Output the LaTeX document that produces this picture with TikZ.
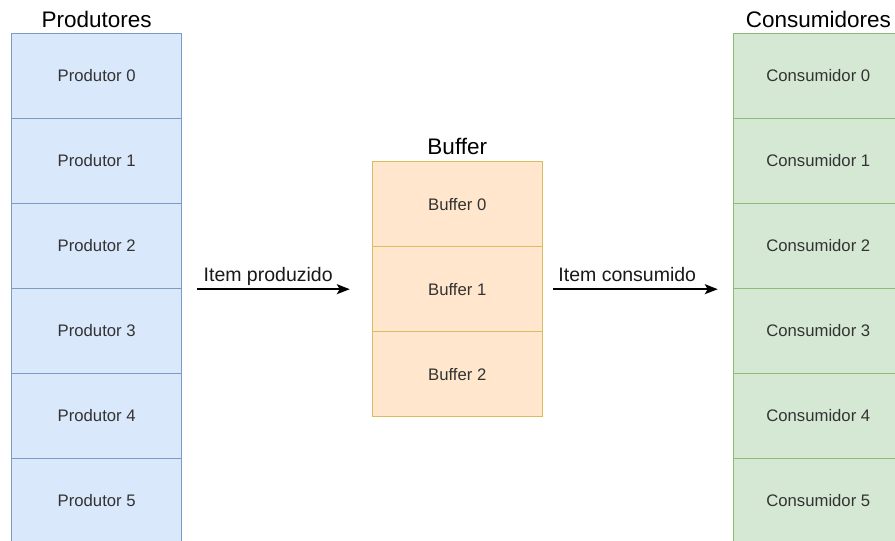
\documentclass[tikz,border=0pt]{standalone}
\usepackage{fontspec}
\setmainfont{Liberation Sans}
\usepackage{xcolor}
\usetikzlibrary{arrows.meta,positioning}
\definecolor{prodfill}{HTML}{dae8fc}
\definecolor{proddraw}{HTML}{7c9ac6}
\definecolor{buffill}{HTML}{ffe6cc}
\definecolor{bufdraw}{HTML}{dcbc62}
\definecolor{consfill}{HTML}{d5e8d4}
\definecolor{consdraw}{HTML}{8dba74}

\tikzset{
	cell/.style={minimum width=170pt,minimum height=85pt,inner sep=0pt,line width=1.1pt,
		text=black!80,font=\fontsize{16.7}{18}\selectfont},
	prodcell/.style={cell,fill=prodfill,draw=proddraw},
	bufcell/.style={cell,fill=buffill,draw=bufdraw},
	conscell/.style={cell,fill=consfill,draw=consdraw},
	heading/.style={inner sep=0pt,font=\fontsize{22.5}{25}\selectfont},
	flow/.style={line width=1.6pt,-{Stealth[length=13pt,width=10pt,inset=3pt]}},
	flowlabel/.style={inner sep=0pt,text depth=4.5pt,text=black!90,font=\fontsize{19.5}{22}\selectfont}
}

\begin{document}
\begin{tikzpicture}[x=1pt,y=-1pt]
		\clip (0,0) rectangle (895,541);
		\fill[white] (0,0) rectangle (895,541);
		
		% producer and consumer columns
		\foreach \i in {0,...,5} {
			\node[prodcell] (prod\i) at (96.7, 75.8+85*\i) {Produtor \i};
			\node[conscell] (cons\i) at (818.3, 75.8+85*\i) {Consumidor \i};
		}
		
		% the shared buffer
		\foreach \i in {0,1,2}
			\node[bufcell] (buf\i) at (457.3, 204.2+85*\i) {Buffer \i};
		
		\node[heading, above=5pt of prod0] (prodtitle) {Produtores};
		\node[heading, above=5pt of cons0] (constitle) {Consumidores};
		\node[heading, above=6.5pt of buf0] (buftitle) {Buffer};
		
		\draw[flow] ([xshift=15pt]prod2.south east |- buf1.west) -- ([xshift=-22pt]buf1.west)
			node[flowlabel, pos=0.465, above=2pt] {Item produzido};
		\draw[flow] ([xshift=10.4pt]buf1.east) -- ([xshift=-15pt]cons2.south west |- buf1.east)
			node[flowlabel, pos=0.45, above=2pt] {Item consumido};
	\end{tikzpicture}
\end{document}
